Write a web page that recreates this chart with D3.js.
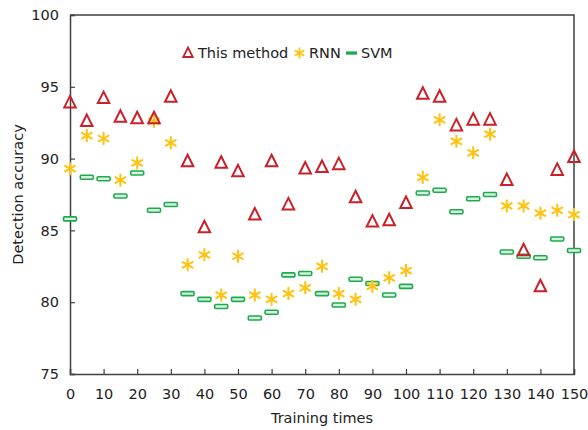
<!DOCTYPE html>
<html>
<head>
<meta charset="utf-8">
<script src="https://cdn.jsdelivr.net/npm/d3@7"></script>
<style>
  body { margin: 0; background: #fff; }
  svg { display: block; font-family: "DejaVu Sans", sans-serif; }
</style>
</head>
<body>
<svg id="chart"></svg>
<script>
// Data
const trainingTimes = [0, 5, 10, 15, 20, 25, 30, 35, 40, 45, 50, 55, 60, 65, 70, 75,
  80, 85, 90, 95, 100, 105, 110, 115, 120, 125, 130, 135, 140, 145, 150];

const thisMethod = [93.9, 92.6, 94.2, 92.9, 92.8, 92.8, 94.3, 89.8, 85.2, 89.7, 89.1,
  86.1, 89.8, 86.8, 89.3, 89.4, 89.6, 87.3, 85.6, 85.7, 86.9, 94.5, 94.3, 92.3,
  92.7, 92.7, 88.5, 83.6, 81.1, 89.2, 90.1];

const rnn = [89.3, 91.6, 91.4, 88.5, 89.7, 92.6, 91.1, 82.6, 83.3, 80.5, 83.2, 80.5,
  80.2, 80.6, 81.0, 82.5, 80.6, 80.2, 81.1, 81.7, 82.2, 88.7, 92.7, 91.2, 90.4,
  91.7, 86.7, 86.7, 86.2, 86.4, 86.1];

const svmAcc = [85.8, 88.7, 88.6, 87.4, 89.0, 86.4, 86.8, 80.6, 80.2, 79.7, 80.2,
  78.9, 79.3, 81.9, 82.0, 80.6, 79.8, 81.6, 81.3, 80.5, 81.1, 87.6, 87.8, 86.3,
  87.2, 87.5, 83.5, 83.2, 83.1, 84.4, 83.6];

const xTicks = [0, 10, 20, 30, 40, 50, 60, 70, 80, 90, 100, 110, 120, 130, 140, 150];
const yTicks = [75, 80, 85, 90, 95, 100];
const seriesNames = ["This method", "RNN", "SVM"];

// Size
const width = 588;
const height = 430;
const margin = { top: 15, right: 14, bottom: 56, left: 70 };

const svg = d3.select("#chart").attr("width", width).attr("height", height);

const x = d3.scaleLinear()
  .domain([0, 150])
  .range([margin.left, width - margin.right]);
const y = d3.scaleLinear()
  .domain([75, 100])
  .range([height - margin.bottom, margin.top]);

const axisColor = "#404040";
const red = "#c9202a";
const gold = "#ffc20e";
const green = "#1faa50";

// Frame (top and right)
svg.append("path")
  .attr("d", `M${x(0)},${y(100)}H${x(150)}V${y(75)}`)
  .attr("fill", "none")
  .attr("stroke", axisColor)
  .attr("stroke-width", 1.5);

// Axes with inward ticks
const xAxis = svg.append("g")
  .attr("transform", "translate(0," + y(75) + ")")
  .call(d3.axisBottom(x).tickValues(xTicks).tickSize(-5).tickPadding(11));
const yAxis = svg.append("g")
  .attr("transform", "translate(" + x(0) + ",0)")
  .call(d3.axisLeft(y).tickValues(yTicks).tickSize(-5).tickPadding(11));

[xAxis, yAxis].forEach((g) => {
  g.select(".domain").attr("stroke", axisColor).attr("stroke-width", 1.5);
  g.selectAll(".tick line").attr("stroke", axisColor).attr("stroke-width", 1.2);
  g.selectAll(".tick text")
    .attr("fill", "#222")
    .style("font-size", "14.5px")
    .style("font-family", "'DejaVu Sans', sans-serif");
});
xAxis.selectAll(".tick text").attr("dy", "0.95em");

// Axis titles
svg.append("text")
  .attr("x", (x(0) + x(150)) / 2)
  .attr("y", 423)
  .attr("text-anchor", "middle")
  .attr("fill", "#222")
  .style("font-size", "14.5px")
  .text("Training times");

svg.append("text")
  .attr("transform", "translate(23," + (y(75) + y(100)) / 2 + ") rotate(-90)")
  .attr("text-anchor", "middle")
  .attr("fill", "#222")
  .style("font-size", "14.5px")
  .text("Detection accuracy");

// Marker helpers
const triPath = (s) => `M0,${-s * 0.58}L${s / 2},${s * 0.42}L${-s / 2},${s * 0.42}Z`;
const starPath = (r) => {
  let p = "";
  [90, 30, -30].forEach((a) => {
    const dx = r * Math.cos((a * Math.PI) / 180);
    const dy = r * Math.sin((a * Math.PI) / 180);
    p += `M${-dx},${-dy}L${dx},${dy}`;
  });
  return p;
};

const points = (vals) => trainingTimes.map((t, i) => ({ t: t, v: vals[i] }));

// SVM marks
svg.append("g")
  .selectAll("rect")
  .data(points(svmAcc))
  .enter()
  .append("rect")
  .attr("x", (d) => x(d.t) - 6.5)
  .attr("y", (d) => y(d.v) - 2)
  .attr("width", 13)
  .attr("height", 4)
  .attr("rx", 1)
  .attr("fill", "#d8f2e0")
  .attr("stroke", green)
  .attr("stroke-width", 1.6);

// RNN marks
svg.append("g")
  .selectAll("path")
  .data(points(rnn))
  .enter()
  .append("path")
  .attr("transform", (d) => "translate(" + x(d.t) + "," + y(d.v) + ")")
  .attr("d", starPath(6.5))
  .attr("fill", "none")
  .attr("stroke", gold)
  .attr("stroke-width", 2);

// This method marks
svg.append("g")
  .selectAll("path")
  .data(points(thisMethod))
  .enter()
  .append("path")
  .attr("transform", (d) => "translate(" + x(d.t) + "," + y(d.v) + ")")
  .attr("d", triPath(11.5))
  .attr("fill", "none")
  .attr("stroke", red)
  .attr("stroke-width", 2)
  .attr("stroke-linejoin", "miter");

// Legend
const legend = svg.append("g").attr("transform", "translate(0,53)");
legend.append("path")
  .attr("transform", "translate(188,0)")
  .attr("d", triPath(9.5))
  .attr("fill", "none")
  .attr("stroke", red)
  .attr("stroke-width", 1.8);
legend.append("path")
  .attr("transform", "translate(299.5,0)")
  .attr("d", starPath(5.5))
  .attr("fill", "none")
  .attr("stroke", gold)
  .attr("stroke-width", 1.8);
legend.append("rect")
  .attr("x", 346)
  .attr("y", -1.6)
  .attr("width", 11)
  .attr("height", 3.3)
  .attr("fill", green);

const legendX = [198, 309, 361];
seriesNames.forEach((name, i) => {
  legend.append("text")
    .attr("x", legendX[i])
    .attr("y", 0)
    .attr("dy", "0.36em")
    .attr("fill", "#222")
    .style("font-size", "14.5px")
    .text(name);
});
</script>
</body>
</html>
